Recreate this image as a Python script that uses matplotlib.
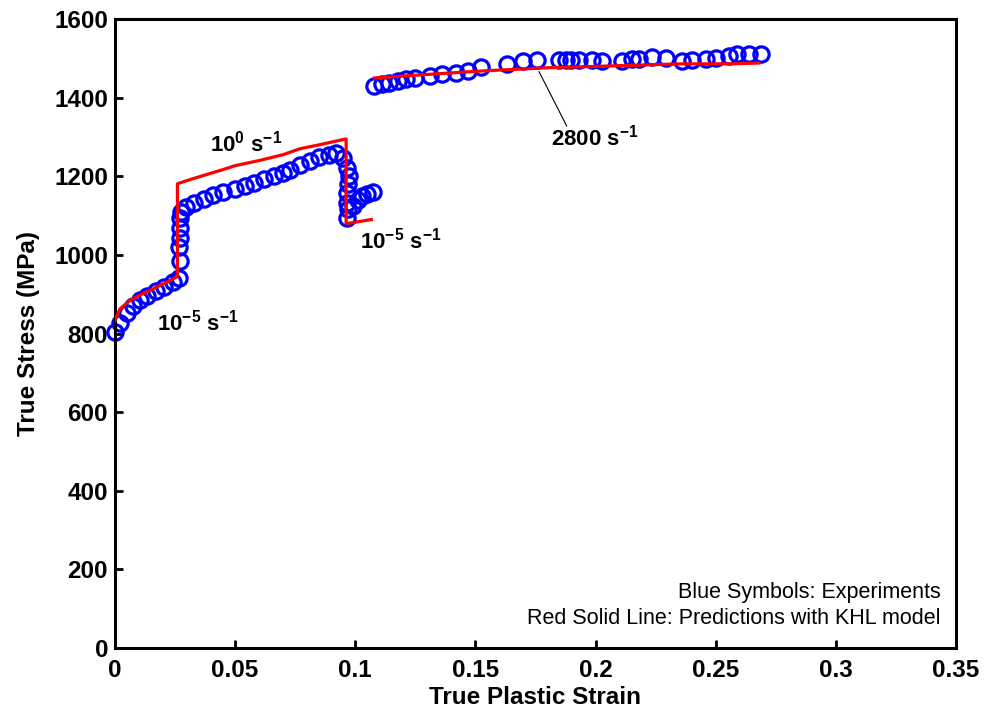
import matplotlib
matplotlib.use("Agg")
import matplotlib.pyplot as plt
import numpy as np

plt.rcParams['font.family'] = ['Liberation Sans', 'DejaVu Sans']
plt.rcParams['mathtext.fontset'] = 'custom'
plt.rcParams['mathtext.rm'] = 'Liberation Sans:bold'
plt.rcParams['mathtext.bf'] = 'Liberation Sans:bold'
plt.rcParams['mathtext.default'] = 'bf'

# experiments, quasi-static part (10^-5 -> 10^0 -> 10^-5)
exp1_strain = [0.000, 0.002, 0.0048, 0.0073, 0.0105, 0.0135, 0.017, 0.0205, 0.024, 0.0265,
               0.027, 0.0265, 0.027, 0.027, 0.027, 0.0275, 0.0295, 0.033, 0.037, 0.041,
               0.045, 0.050, 0.054, 0.058, 0.062, 0.066, 0.070, 0.073, 0.077, 0.081,
               0.085, 0.089, 0.092, 0.0947, 0.0965, 0.0975, 0.097, 0.0965, 0.0965, 0.097,
               0.0965, 0.099, 0.101, 0.103, 0.105, 0.1075]
exp1_stress = [803, 826, 853, 870, 885, 896, 908, 918, 930, 940,
               985, 1019, 1044, 1069, 1095, 1110, 1122, 1133, 1143, 1152,
               1160, 1168, 1176, 1184, 1192, 1200, 1208, 1215, 1228, 1240,
               1250, 1255, 1258, 1247, 1222, 1201, 1181, 1158, 1133, 1118,
               1095, 1125, 1140, 1150, 1155, 1160]

# experiments, dynamic part (2800 s^-1)
exp2_strain = [0.108, 0.111, 0.114, 0.1176, 0.121, 0.125, 0.131, 0.136, 0.142, 0.147,
               0.1525, 0.163, 0.170, 0.1757, 0.185, 0.1877, 0.190, 0.193, 0.1985, 0.2027,
               0.211, 0.2153, 0.218, 0.2236, 0.2293, 0.236, 0.2403, 0.246, 0.250, 0.2556,
               0.259, 0.264, 0.269]
exp2_stress = [1430, 1435, 1438, 1443, 1448, 1450, 1455, 1461, 1463, 1468,
               1478, 1486, 1494, 1496, 1496, 1496, 1496, 1496, 1496, 1494,
               1494, 1499, 1499, 1504, 1501, 1494, 1496, 1499, 1501, 1506,
               1511, 1511, 1511]

# KHL model predictions
khl1_strain = [0.000, 0.002, 0.005, 0.0075, 0.010, 0.014, 0.018, 0.022, 0.026, 0.026,
               0.032, 0.039, 0.045, 0.050, 0.060, 0.070, 0.077, 0.085, 0.0962, 0.0962,
               0.099, 0.1067]
khl1_stress = [833, 862, 878, 889, 897, 908, 920, 932, 945, 1181,
               1193, 1206, 1217, 1227, 1240, 1255, 1270, 1280, 1295, 1080,
               1082, 1090]

khl2_strain = [0.108, 0.130, 0.153, 0.180, 0.208, 0.236, 0.257, 0.268]
khl2_stress = [1450, 1459, 1468, 1476, 1481, 1486, 1486, 1488]

fig = plt.figure(figsize=(9.86, 7.15), dpi=100)
ax = fig.add_axes([0.1166, 0.0937, 0.8529, 0.8797])

ax.plot(exp1_strain, exp1_stress, 'o', mfc='none', mec='#0000ff', ms=11, mew=2.3,
        zorder=2, clip_on=False)
ax.plot(exp2_strain, exp2_stress, 'o', mfc='none', mec='#0000ff', ms=11, mew=2.3,
        zorder=2, clip_on=False)
ax.plot(khl1_strain, khl1_stress, '-', color='#ff0000', lw=2.3, zorder=3)
ax.plot(khl2_strain, khl2_stress, '-', color='#ff0000', lw=2.3, zorder=3)

ax.set_xlim(0, 0.35)
ax.set_ylim(0, 1600)
ax.set_xticks([0, 0.05, 0.1, 0.15, 0.2, 0.25, 0.3, 0.35])
ax.set_xticklabels(['0', '0.05', '0.1', '0.15', '0.2', '0.25', '0.3', '0.35'])
ax.set_yticks(range(0, 1601, 200))
ax.tick_params(direction='in', length=6, width=2, labelsize=17.5, top=False, right=False)
ax.tick_params(axis='x', pad=8)
ax.tick_params(axis='y', pad=5)
for lab in ax.get_xticklabels() + ax.get_yticklabels():
    lab.set_fontweight('bold')
for s in ax.spines.values():
    s.set_linewidth(2.2)

ax.set_xlabel('True Plastic Strain', fontsize=17.5, fontweight='bold', labelpad=3)
ax.set_ylabel('True Stress (MPa)', fontsize=17.5, fontweight='bold', labelpad=10)

ax.text(0.0395, 1283, r'10$^{0}$ s$^{-1}$', fontsize=16, fontweight='bold', va='center', ha='left')
ax.text(0.0175, 828, r'10$^{-5}$ s$^{-1}$', fontsize=16, fontweight='bold', va='center', ha='left')
ax.text(0.102, 1036, r'10$^{-5}$ s$^{-1}$', fontsize=16, fontweight='bold', va='center', ha='left')
ax.plot([0.1765, 0.188], [1466, 1328], color='black', lw=0.8)
ax.text(0.1815, 1298, r'2800 s$^{-1}$', fontsize=16, fontweight='bold', va='center', ha='left')

ax.text(0.3435, 142, 'Blue Symbols: Experiments', fontsize=15.5, ha='right', va='center')
ax.text(0.3435, 76, 'Red Solid Line: Predictions with KHL model', fontsize=15.5,
        ha='right', va='center')

fig.savefig('out.png', dpi=100)
